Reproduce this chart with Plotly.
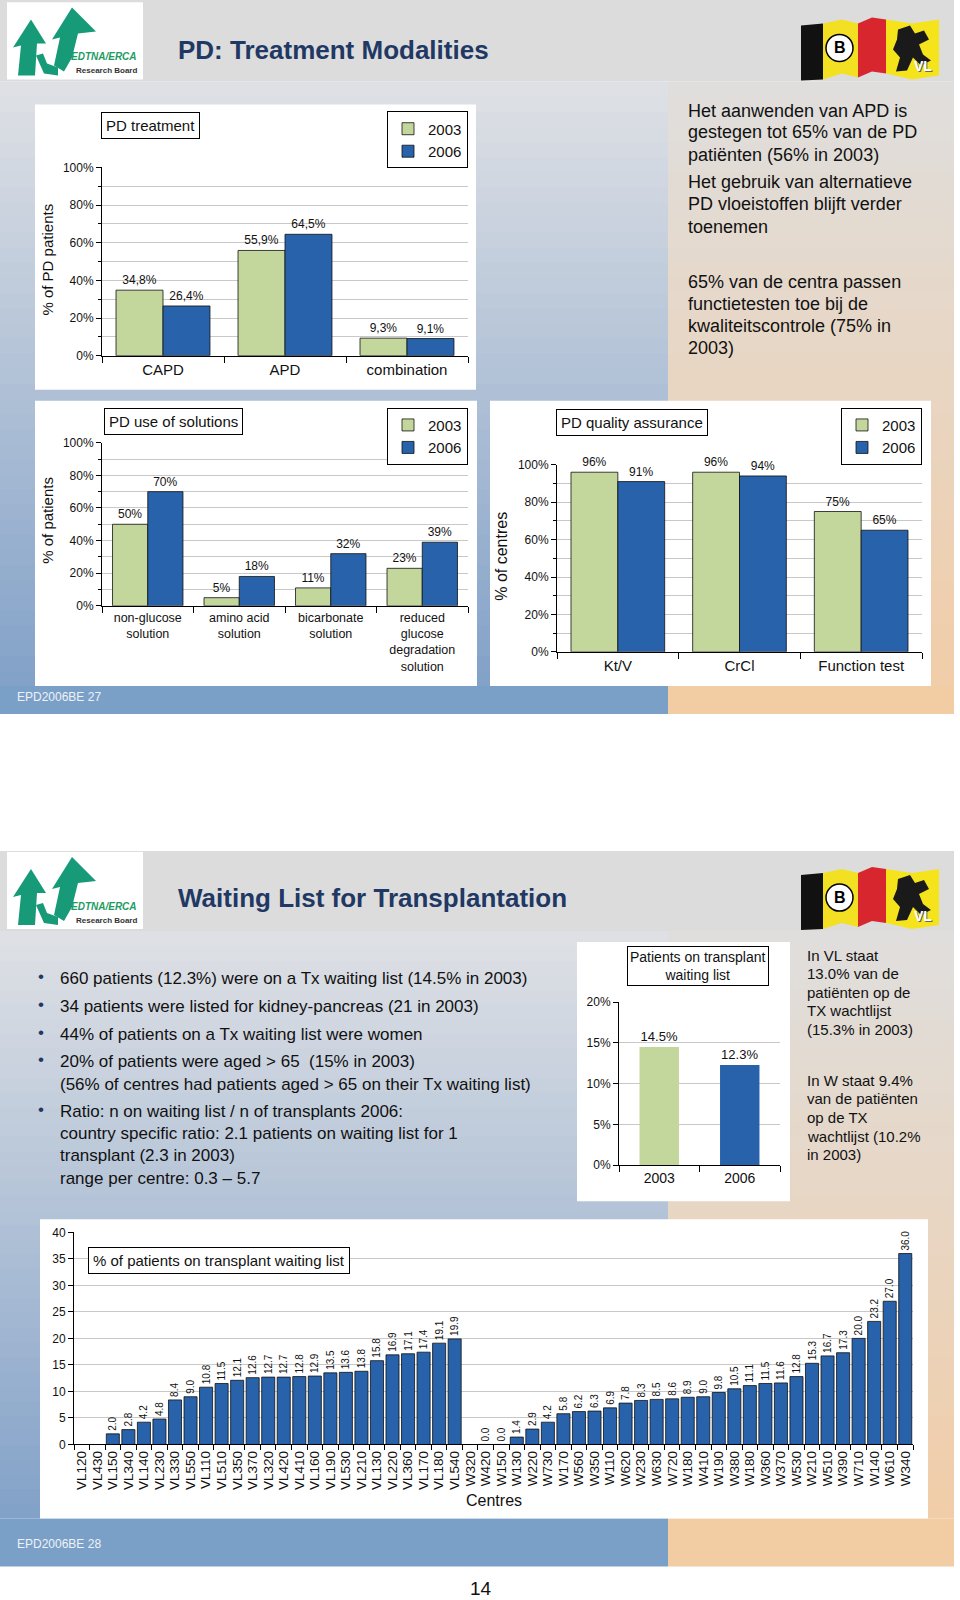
import plotly.graph_objects as go

W, H = 960, 1600
FONT = "Liberation Sans, Arial, sans-serif"
GREEN = "#C3D69B"
BLUE = "#2762AA"
GRID = "#C8C8C8"

def X(p):
    return p / W

def Y(p):
    # small vertical calibration so the rendered page lines up with the reference
    return 1 - (1.0096 * p - 7.7) / H

# ---------------- data ----------------
pd_treat_cats = ["CAPD", "APD", "combination"]
pd_treat_2003 = [34.8, 55.9, 9.3]
pd_treat_2006 = [26.4, 64.5, 9.1]

sol_cats = ["non-glucose<br>solution", "amino acid<br>solution", "bicarbonate<br>solution",
            "reduced<br>glucose<br>degradation<br>solution"]
sol_2003 = [50, 5, 11, 23]
sol_2006 = [70, 18, 32, 39]

qa_cats = ["Kt/V", "CrCl", "Function test"]
qa_2003 = [96, 96, 75]
qa_2006 = [91, 94, 65]

wl_years = ["2003", "2006"]
wl_values = [14.5, 12.3]

vl_centres = ["VL120", "VL430", "VL150", "VL340", "VL140", "VL230", "VL330", "VL550", "VL110",
              "VL510", "VL350", "VL370", "VL320", "VL420", "VL410", "VL160", "VL190", "VL530",
              "VL210", "VL130", "VL220", "VL360", "VL170", "VL180", "VL540"]
vl_values = [None, None, 2.0, 2.8, 4.2, 4.8, 8.4, 9.0, 10.8, 11.5, 12.1, 12.6, 12.7, 12.7, 12.8,
             12.9, 13.5, 13.6, 13.8, 15.8, 16.9, 17.1, 17.4, 19.1, 19.9]
w_centres = ["W320", "W420", "W150", "W130", "W220", "W730", "W170", "W560", "W350", "W110",
             "W620", "W230", "W630", "W720", "W180", "W410", "W190", "W380", "W180", "W360",
             "W370", "W530", "W210", "W510", "W390", "W710", "W140", "W610", "W340"]
w_values = [None, 0.0, 0.0, 1.4, 2.9, 4.2, 5.8, 6.2, 6.3, 6.9, 7.8, 8.3, 8.5, 8.6, 8.9, 9.0,
            9.8, 10.5, 11.1, 11.5, 11.6, 12.8, 15.3, 16.7, 17.3, 20.0, 23.2, 27.0, 36.0]

centres = vl_centres + w_centres
centre_values = vl_values + w_values

slide1_text = [
    ["Het aanwenden van APD is", "gestegen tot 65% van de PD", "patiënten (56% in 2003)",
     "Het gebruik van alternatieve", "PD vloeistoffen blijft verder", "toenemen"],
    ["65% van de centra passen", "functietesten toe bij de",
     "kwaliteitscontrole (75% in", "2003)"],
]
bullets = [
    ["660 patients (12.3%) were on a Tx waiting list (14.5% in 2003)"],
    ["34 patients were listed for kidney-pancreas (21 in 2003)"],
    ["44% of patients on a Tx waiting list were women"],
    ["20% of patients were aged > 65  (15% in 2003)",
     "(56% of centres had patients aged > 65 on their Tx waiting list)"],
    ["Ratio: n on waiting list / n of transplants 2006:",
     "country specific ratio: 2.1 patients on waiting list for 1",
     "transplant (2.3 in 2003)", "range per centre: 0.3 \u2013 5.7"],
]
side_text = [
    ["In VL staat", "13.0% van de", "patiënten op de", "TX wachtlijst", "(15.3% in 2003)"],
    ["In W staat 9.4%", "van de patiënten", "op de TX", "wachtlijst (10.2%", "in 2003)"],
]

# ---------------- helpers ----------------
shapes = []
annotations = []

def rect(x0, y0, x1, y1, fill, line_color=None, lw=0, layer="below"):
    d = dict(type="rect", xref="paper", yref="paper", x0=X(x0), x1=X(x1), y0=Y(y1), y1=Y(y0),
             fillcolor=fill, layer=layer, line=dict(width=lw, color=line_color or fill))
    shapes.append(d)

def poly(points, fill, dy=0, layer="below"):
    p = "M " + " L ".join(f"{X(x):.5f},{Y(y + dy):.5f}" for x, y in points) + " Z"
    shapes.append(dict(type="path", xref="paper", yref="paper", path=p, fillcolor=fill,
                       line=dict(width=0), layer=layer))

def vgrad(x0, x1, y0, y1, c0, c1, n=40):
    for i in range(n):
        t = (i + 0.5) / n
        c = tuple(round(c0[k] + (c1[k] - c0[k]) * t) for k in range(3))
        ya = y0 + (y1 - y0) * i / n
        yb = min(y1, y0 + (y1 - y0) * (i + 1) / n + 0.8)
        rect(x0, ya, x1, yb, "rgb(%d,%d,%d)" % c)

def txt(x, y, s, size, color="#111111", xanchor="left", yanchor="middle", **kw):
    d = dict(x=X(x), y=Y(y), xref="paper", yref="paper", text=s, showarrow=False,
             xanchor=xanchor, yanchor=yanchor, font=dict(size=size, color=color, family=FONT))
    d.update(kw)
    annotations.append(d)

def boxed(x, y, s, size, pad=4):
    txt(x, y, s, size, xanchor="center", bordercolor="black", borderwidth=1, borderpad=pad,
        bgcolor="white")

# ---------------- slide backgrounds ----------------
SPLIT = 668
RIGHT = 954
LEFT_TOP, LEFT_BOT = (223, 225, 229), (130, 161, 200)
RIGHT_TOP, RIGHT_BOT = (223, 222, 221), (241, 205, 168)
BAND_BLUE, BAND_PEACH = "#7BA0C7", "#F2CCA3"
HEADER = "#DCDCDC"

def slide(top, head_bot, band_top, band_bot):
    rect(0, top, RIGHT, head_bot, HEADER)
    vgrad(0, SPLIT, head_bot, band_top, LEFT_TOP, LEFT_BOT)
    vgrad(SPLIT, RIGHT, head_bot, band_top, RIGHT_TOP, RIGHT_BOT)
    rect(0, band_top, SPLIT, band_bot, BAND_BLUE)
    rect(SPLIT, band_top, RIGHT, band_bot, BAND_PEACH)

slide(0, 82, 686, 714)
slide(851, 931, 1518, 1566)

def logo(dy):
    rect(7, 3 + dy, 143, 80 + dy, "white")
    g = "#179A78"
    poly([(18, 76), (21, 46), (13, 48), (31, 20), (46, 44), (37, 44), (35, 76)], g, dy)
    poly([(54, 66), (60, 38), (52, 40), (72, 8), (96, 32), (78, 34), (72, 58), (64, 72)], g, dy)
    poly([(36, 56), (43, 54), (47, 64), (58, 68), (58, 76), (44, 74)], g, dy)
    txt(104, 57 + dy, "<b><i>EDTNA/ERCA</i></b>", 10, color="#1E9B63", xanchor="center")
    txt(106, 71 + dy, "<b>Research Board</b>", 8, color="#333333", xanchor="center")

def flag(dy):
    poly([(801, 26), (823, 24), (823, 80), (801, 81)], "#111111", dy)
    poly([(823, 24), (842, 20), (858, 24), (858, 78), (842, 74), (823, 80)], "#F3E022", dy)
    poly([(858, 24), (872, 18), (886, 20), (886, 74), (872, 72), (858, 78)], "#D8262E", dy)
    poly([(886, 20), (912, 24), (939, 20), (939, 76), (912, 80), (886, 74)], "#F5E41C", dy)
    poly([(898, 30), (910, 26), (915, 34), (924, 31), (929, 40), (919, 45), (923, 55),
          (931, 61), (921, 66), (913, 58), (907, 71), (896, 72), (900, 58), (893, 50),
          (897, 40)], "#1A1A1A", dy)
    shapes.append(dict(type="circle", xref="paper", yref="paper", x0=X(826), x1=X(853),
                       y0=Y(62 + dy), y1=Y(35 + dy), fillcolor="white",
                       line=dict(color="black", width=1.5), layer="below"))
    txt(839.5, 48.5 + dy, "<b>B</b>", 16, color="black", xanchor="center")
    txt(924, 68 + dy, "<b>VL</b>", 14, color="#666666", xanchor="center")
    txt(923, 67 + dy, "<b>VL</b>", 14, color="white", xanchor="center")

logo(0)
logo(849)
flag(0)
flag(849)

txt(176, 51, "<b>PD: Treatment Modalities</b>", 26, color="#1F3864")
txt(176, 898, "<b>Waiting List for Transplantation</b>", 26, color="#1F3864")

# white chart panels
rect(35, 105, 476, 390, "white")
rect(35, 401, 477, 686, "white")
rect(490, 401, 931, 686, "white")
rect(577, 942, 790, 1201, "white")
rect(40, 1219, 928, 1518, "white")

# ---------------- text blocks ----------------
ys = [112, 133, 156, 182, 204, 227]
for yy, line in zip(ys, slide1_text[0]):
    txt(686, yy, line, 18)
ys = [282, 304, 326, 348]
for yy, line in zip(ys, slide1_text[1]):
    txt(686, yy, line, 18)

bullet_y = [[978], [1006], [1034], [1061, 1084], [1111, 1133, 1155, 1178]]
for lines, yl in zip(bullets, bullet_y):
    txt(41, yl[0] - 2, "\u2022", 17, color="#1F3864", xanchor="center")
    for yy, line in zip(yl, lines):
        txt(58, yy, line, 17)

for block, y0 in zip(side_text, [955, 1080]):
    for i, line in enumerate(block):
        txt(805, y0 + 18.6 * i, line, 15)

txt(15, 697, "EPD2006BE 27", 12, color="#EEF2F8")
txt(15, 1543, "EPD2006BE 28", 12, color="#EEF2F8")
txt(481, 1588, "14", 19, color="#111111", xanchor="center")

# axis titles / chart titles
txt(48, 260, "% of PD patients", 15, xanchor="center", textangle=-90)
txt(48, 521, "% of patients", 15, xanchor="center", textangle=-90)
txt(502, 557, "% of centres", 16, xanchor="center", textangle=-90)
txt(494, 1500, "Centres", 16, xanchor="center")

boxed(150.5, 126.5, "PD treatment", 15)
boxed(173.5, 421.5, "PD use of solutions", 15)
boxed(632, 422.5, "PD quality assurance", 15)
boxed(697.5, 965.5, "Patients on transplant<br>waiting list", 14, pad=2)
boxed(219, 1260, "% of patients on transplant waiting list", 15)

# ---------------- traces ----------------
fig = go.Figure()

def pct_comma(v):
    return f"{v:.1f}".replace(".", ",") + "%"

def grouped(cats, v03, v06, ax, leg, fmt):
    for name, vals, col in (("2003", v03, GREEN), ("2006", v06, BLUE)):
        fig.add_trace(go.Bar(
            x=cats, y=vals, name=name, marker=dict(color=col, line=dict(color="#111111", width=0.8)),
            text=[fmt(v) for v in vals], textposition="outside", cliponaxis=False,
            constraintext="none", textfont=dict(size=12, color="#111111", family=FONT),
            xaxis="x" + ax, yaxis="y" + ax, legend=leg, hoverinfo="skip"))

grouped(pd_treat_cats, pd_treat_2003, pd_treat_2006, "", "legend", pct_comma)
grouped(sol_cats, sol_2003, sol_2006, "2", "legend2", lambda v: f"{v}%")
grouped(qa_cats, qa_2003, qa_2006, "3", "legend3", lambda v: f"{v}%")

fig.add_trace(go.Bar(
    x=wl_years, y=wl_values, marker=dict(color=[GREEN, BLUE], line=dict(width=0)), width=0.49,
    text=[f"{v:.1f}%" for v in wl_values], textposition="outside", cliponaxis=False,
    constraintext="none", textfont=dict(size=13, color="#111111", family=FONT),
    xaxis="x4", yaxis="y4", showlegend=False, hoverinfo="skip"))

idx = list(range(len(centres)))
fig.add_trace(go.Bar(
    x=idx, y=centre_values, width=0.84,
    marker=dict(color=BLUE, line=dict(color="#111111", width=0.8)),
    text=["" if v is None else f"{v:.1f}" for v in centre_values], textposition="outside",
    textangle=-90, cliponaxis=False, constraintext="none",
    textfont=dict(size=10, color="#111111", family=FONT),
    xaxis="x5", yaxis="y5", showlegend=False, hoverinfo="skip"))

# ---------------- axes ----------------
def yax(x_anchor, top, bot, rng, dtick, minor, suffix="%"):
    d = dict(anchor=x_anchor, domain=[Y(bot), Y(top)], range=rng, dtick=dtick, tick0=0,
             ticksuffix=suffix, showline=True, linecolor="black", linewidth=1,
             ticks="outside", ticklen=5, tickcolor="black", showgrid=True, gridcolor=GRID,
             gridwidth=1, zeroline=False, tickfont=dict(size=12, color="#111111", family=FONT),
             fixedrange=True)
    if minor:
        d["minor"] = dict(dtick=minor, ticks="outside", ticklen=3, tickcolor="black",
                          showgrid=True, gridcolor=GRID, gridwidth=1)
    return d

def xcat(y_anchor, x0, x1, size):
    return dict(anchor=y_anchor, domain=[X(x0), X(x1)], type="category", showline=True,
                linecolor="black", linewidth=1, ticks="outside", tickson="boundaries",
                ticklen=6, tickcolor="black", showgrid=False, zeroline=False,
                tickfont=dict(size=size, color="#111111", family=FONT), fixedrange=True)

layout = dict(
    width=W, height=H, margin=dict(l=0, r=0, t=0, b=0), autosize=False,
    paper_bgcolor="white", plot_bgcolor="rgba(0,0,0,0)",
    barmode="group", bargap=0.23, bargroupgap=0,
    font=dict(family=FONT, color="#111111"),
    xaxis=xcat("y", 102, 468, 15),
    yaxis=yax("x", 168, 356, [0, 100], 20, 10),
    xaxis2=xcat("y2", 102, 468, 12.5),
    yaxis2=yax("x2", 443, 606, [0, 100], 20, 10),
    xaxis3=xcat("y3", 557, 922, 15),
    yaxis3=yax("x3", 465, 652, [0, 100], 20, 10),
    xaxis4=xcat("y4", 619, 780, 14),
    yaxis4=yax("x4", 1002, 1165, [0, 20], 5, None),
    xaxis5=dict(anchor="y5", domain=[X(74), X(913)], range=[-0.5, len(centres) - 0.5],
                tickmode="array", tickvals=idx, ticktext=centres, tickangle=-90, ticks="",
                showline=True, linecolor="black", linewidth=1, showgrid=False, zeroline=False,
                tickfont=dict(size=13.5, color="#111111", family=FONT), fixedrange=True,
                minor=dict(tickmode="linear", tick0=0.5, dtick=1, ticks="outside", ticklen=5,
                           tickcolor="black", showgrid=False)),
    yaxis5=yax("x5", 1232, 1444, [0, 40], 5, None, suffix=""),
    shapes=shapes, annotations=annotations,
)

legend_common = dict(bordercolor="black", borderwidth=1, bgcolor="white", tracegroupgap=0,
                     font=dict(size=15, color="#111111", family=FONT), itemwidth=30,
                     xanchor="right", yanchor="top", orientation="v")
layout["legend"] = dict(x=X(468), y=Y(112), **legend_common)
layout["legend2"] = dict(x=X(468), y=Y(408), **legend_common)
layout["legend3"] = dict(x=X(922), y=Y(408), **legend_common)

fig.update_layout(**layout)
fig.write_html(
    "out.html",
    config={"displayModeBar": False},
    post_script="document.body.style.margin='0px';document.body.style.overflow='hidden';",
)
